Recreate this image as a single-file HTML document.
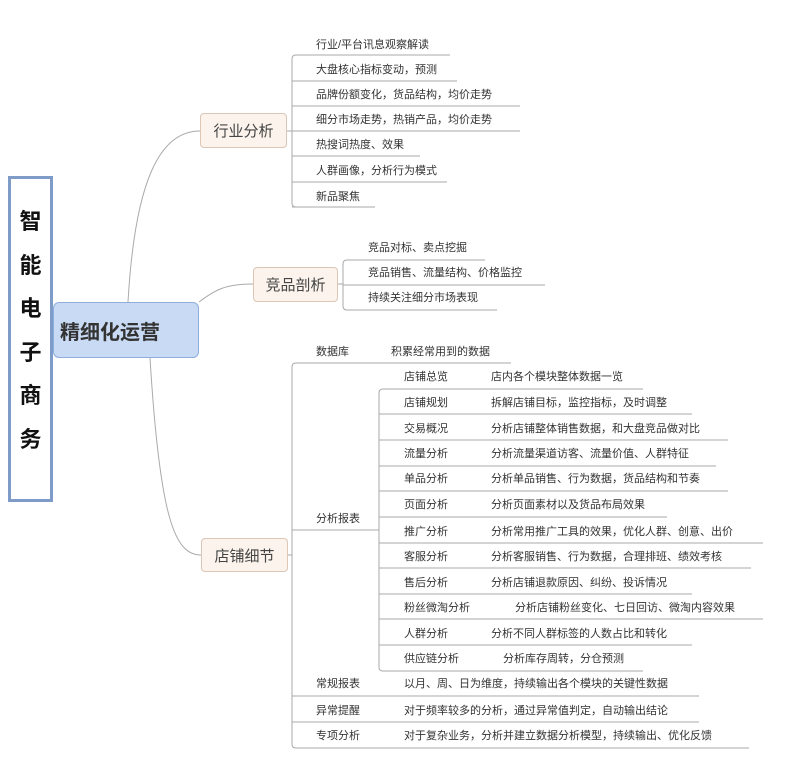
<!DOCTYPE html>
<html><head><meta charset="utf-8"><style>
body{margin:0;width:800px;height:768px;background:#fff;position:relative;overflow:hidden;font-family:"Liberation Sans","Noto Sans CJK SC",sans-serif;color:#333}
.t{position:absolute;font-size:11px;line-height:14px;white-space:nowrap;transform:translateY(-7px)}
.n{position:absolute;box-sizing:border-box;background:#fbf3ec;border:1px solid #dcc6b6;border-radius:4px;font-size:15px;color:#444;display:flex;align-items:center;justify-content:center}
</style></head><body>
<svg width="800" height="768" style="position:absolute;left:0;top:0" fill="none" stroke="#aaa" stroke-width="1">
<path d="M128 302 C135 180 160 131 200 131"/>
<path d="M199 302 C215 290 225 284 253 284"/>
<path d="M150 358 C160 520 175 555 201 555"/>
<path d="M287 131 H292"/><path d="M296 55 Q292 55 292 59 V203 Q292 207 296 207"/>
<path d="M292 81 H457 M292 106 H520 M292 131 H520 M292 156 H420 M292 182 H447 M292 207 H375 M296 55 H450"/>
<path d="M338 284 H343"/><path d="M347 260 Q343 260 343 264 V306 Q343 310 347 310"/>
<path d="M347 260 H485 M343 285 H545 M347 310 H497"/>
<path d="M288 555 H292"/><path d="M296 363 Q292 363 292 367 V744 Q292 748 296 748"/>
<path d="M296 363 H511 M292 530 H379 M292 696 H699 M292 722 H699 M296 748 H749"/>
<path d="M383 389 Q379 389 379 393 V667 Q379 671 383 671"/>
<path d="M383 389 H643 M379 414 H692 M379 440 H728 M379 466 H716 M379 491 H728 M379 517 H667 M379 543 H763 M379 568 H751 M379 594 H692 M379 619 H763 M379 645 H692 M383 671 H643"/>
</svg>
<div style="position:absolute;left:8px;top:176px;width:45px;height:326px;box-sizing:border-box;border:3px solid #7f9cc9;background:#fff"></div>
<div style="position:absolute;left:8px;top:200px;width:45px;text-align:center;font-size:22px;font-weight:bold;line-height:43.5px;color:#111">智<br>能<br>电<br>子<br>商<br>务</div>
<div class="n" style="left:53px;top:302px;width:146px;height:56px;background:#c8daf4;border-color:#8eaedb;border-radius:6px;font-size:20px;font-weight:bold;color:#333;justify-content:flex-start;padding-left:6px">精细化运营</div>
<div class="n" style="left:200px;top:113px;width:87px;height:35px">行业分析</div>
<div class="n" style="left:253px;top:267px;width:85px;height:35px">竞品剖析</div>
<div class="n" style="left:201px;top:538px;width:87px;height:34px">店铺细节</div>
<div class="t" style="left:316px;top:45px">行业/平台讯息观察解读</div>
<div class="t" style="left:316px;top:70px">大盘核心指标变动，预测</div>
<div class="t" style="left:316px;top:95px">品牌份额变化，货品结构，均价走势</div>
<div class="t" style="left:316px;top:120px">细分市场走势，热销产品，均价走势</div>
<div class="t" style="left:316px;top:145px">热搜词热度、效果</div>
<div class="t" style="left:316px;top:171px">人群画像，分析行为模式</div>
<div class="t" style="left:316px;top:197px">新品聚焦</div>
<div class="t" style="left:368px;top:248px">竞品对标、卖点挖掘</div>
<div class="t" style="left:368px;top:273px">竞品销售、流量结构、价格监控</div>
<div class="t" style="left:368px;top:298px">持续关注细分市场表现</div>
<div class="t" style="left:316px;top:352px">数据库</div><div class="t" style="left:391px;top:352px">积累经常用到的数据</div>
<div class="t" style="left:316px;top:519px">分析报表</div>
<div class="t" style="left:404px;top:377px">店铺总览</div><div class="t" style="left:491px;top:377px">店内各个模块整体数据一览</div>
<div class="t" style="left:404px;top:403px">店铺规划</div><div class="t" style="left:491px;top:403px">拆解店铺目标，监控指标，及时调整</div>
<div class="t" style="left:404px;top:429px">交易概况</div><div class="t" style="left:491px;top:429px">分析店铺整体销售数据，和大盘竞品做对比</div>
<div class="t" style="left:404px;top:454px">流量分析</div><div class="t" style="left:491px;top:454px">分析流量渠道访客、流量价值、人群特征</div>
<div class="t" style="left:404px;top:479px">单品分析</div><div class="t" style="left:491px;top:479px">分析单品销售、行为数据，货品结构和节奏</div>
<div class="t" style="left:404px;top:505px">页面分析</div><div class="t" style="left:491px;top:505px">分析页面素材以及货品布局效果</div>
<div class="t" style="left:404px;top:532px">推广分析</div><div class="t" style="left:491px;top:532px">分析常用推广工具的效果，优化人群、创意、出价</div>
<div class="t" style="left:404px;top:557px">客服分析</div><div class="t" style="left:491px;top:557px">分析客服销售、行为数据，合理排班、绩效考核</div>
<div class="t" style="left:404px;top:583px">售后分析</div><div class="t" style="left:491px;top:583px">分析店铺退款原因、纠纷、投诉情况</div>
<div class="t" style="left:404px;top:608px">粉丝微淘分析</div><div class="t" style="left:515px;top:608px">分析店铺粉丝变化、七日回访、微淘内容效果</div>
<div class="t" style="left:404px;top:634px">人群分析</div><div class="t" style="left:491px;top:634px">分析不同人群标签的人数占比和转化</div>
<div class="t" style="left:404px;top:659px">供应链分析</div><div class="t" style="left:503px;top:659px">分析库存周转，分仓预测</div>
<div class="t" style="left:316px;top:684px">常规报表</div><div class="t" style="left:404px;top:684px">以月、周、日为维度，持续输出各个模块的关键性数据</div>
<div class="t" style="left:316px;top:711px">异常提醒</div><div class="t" style="left:404px;top:711px">对于频率较多的分析，通过异常值判定，自动输出结论</div>
<div class="t" style="left:316px;top:736px">专项分析</div><div class="t" style="left:404px;top:736px">对于复杂业务，分析并建立数据分析模型，持续输出、优化反馈</div>
</body></html>
